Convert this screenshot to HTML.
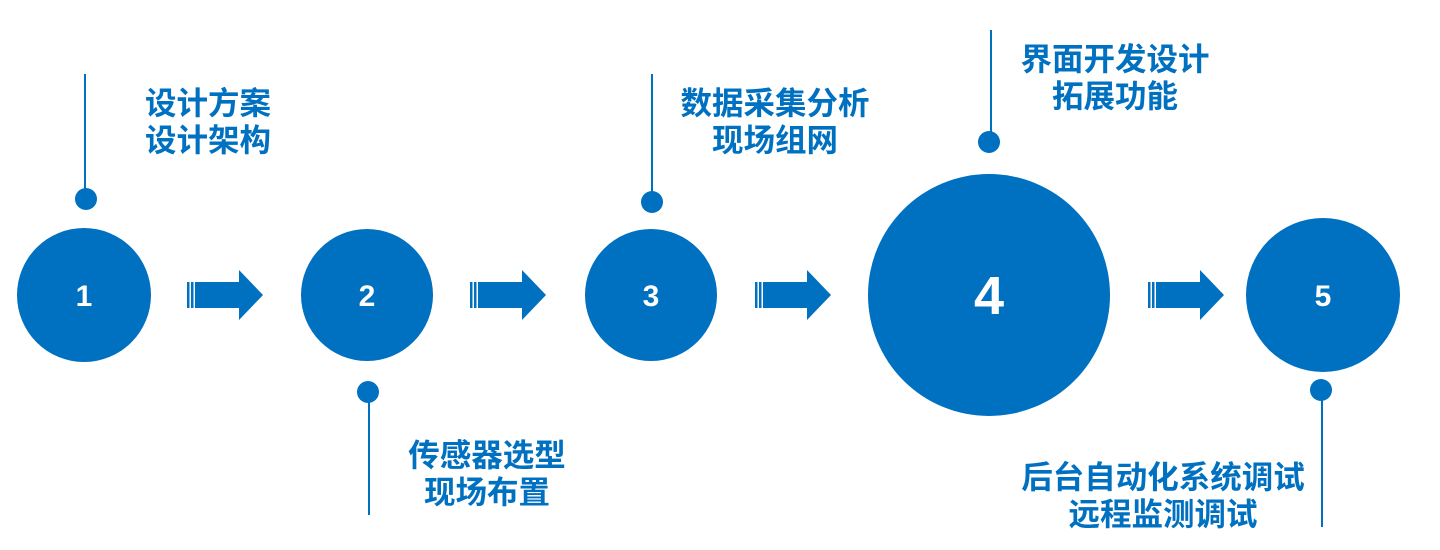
<!DOCTYPE html>
<html><head><meta charset="utf-8"><style>
html,body{margin:0;padding:0;background:#fff;width:1440px;height:550px;overflow:hidden}
svg text{font-family:"Liberation Sans","Noto Sans CJK SC",sans-serif;font-weight:bold}
</style></head><body>
<svg width="1440" height="550" viewBox="0 0 1440 550" xmlns="http://www.w3.org/2000/svg">
<defs>
<g id="arr" fill="#0070C0">
<rect x="0" y="12" width="2.5" height="26"/>
<rect x="4" y="12" width="2.5" height="26"/>
<rect x="8" y="12" width="45" height="26"/>
<polygon points="52,0 76,25 52,50"/>
</g>
</defs>
<g fill="#0070C0" stroke="none">
<circle cx="84" cy="295" r="67"/>
<circle cx="367" cy="295" r="66"/>
<circle cx="651" cy="295" r="66"/>
<circle cx="989" cy="295" r="121"/>
<circle cx="1323" cy="295" r="77"/>
<circle cx="86" cy="199" r="11"/>
<circle cx="368" cy="392" r="11"/>
<circle cx="652" cy="202" r="11"/>
<circle cx="989" cy="142" r="11"/>
<circle cx="1321" cy="390" r="11"/>
</g>
<g stroke="#0070C0" stroke-width="2">
<line x1="85" y1="74" x2="85" y2="199"/>
<line x1="369" y1="392" x2="369" y2="515"/>
<line x1="652" y1="74" x2="652" y2="202"/>
<line x1="991" y1="30" x2="991" y2="142"/>
<line x1="1322" y1="390" x2="1322" y2="527"/>
</g>
<use href="#arr" x="187" y="270"/>
<use href="#arr" x="470" y="270"/>
<use href="#arr" x="755" y="270"/>
<use href="#arr" x="1148" y="270"/>
<g fill="#fff" text-anchor="middle">
<text x="84" y="306" font-size="30">1</text>
<text x="367" y="306" font-size="30">2</text>
<text x="651" y="306" font-size="30">3</text>
<text x="989" y="314" font-size="54">4</text>
<text x="1323" y="306" font-size="30">5</text>
</g>
<g fill="#0070C0" font-size="31.5" text-anchor="middle">
<text x="208" y="114">设计方案</text>
<text x="208" y="151">设计架构</text>
<text x="487" y="466">传感器选型</text>
<text x="487" y="503">现场布置</text>
<text x="775" y="114">数据采集分析</text>
<text x="775" y="151">现场组网</text>
<text x="1115" y="70">界面开发设计</text>
<text x="1115" y="107">拓展功能</text>
<text x="1163" y="488">后台自动化系统调试</text>
<text x="1163" y="525">远程监测调试</text>
</g>
</svg>
</body></html>
